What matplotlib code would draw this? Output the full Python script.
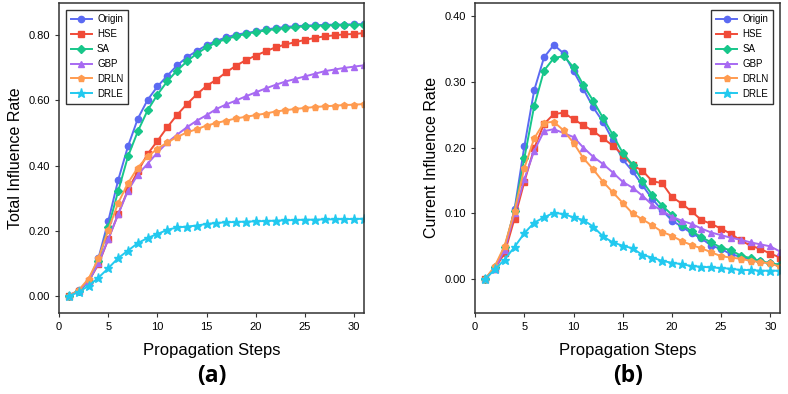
import numpy as np
import matplotlib
matplotlib.use("Agg")
import matplotlib.pyplot as plt
from matplotlib.ticker import FormatStrFormatter

plt.rcParams['font.family'] = ['Liberation Sans', 'DejaVu Sans']

steps = list(range(1, 32))
methods = ["Origin", "HSE", "SA", "GBP", "DRLN", "DRLE"]
colors = ["#5b6af2", "#f04b38", "#17c68a", "#a76af2", "#ff9b50", "#22c9ef"]
markers = ["o", "s", "D", "^", "p", "*"]

# (a) total influence rate
total_origin = [0.0, 0.018, 0.045, 0.116, 0.23, 0.355, 0.459, 0.544, 0.602, 0.643, 0.676,
                0.708, 0.733, 0.752, 0.77, 0.783, 0.794, 0.802, 0.807, 0.812, 0.818, 0.822,
                0.826, 0.828, 0.83, 0.831, 0.832, 0.833, 0.833, 0.834, 0.834]
total_hse = [0.0, 0.015, 0.045, 0.097, 0.174, 0.251, 0.326, 0.382, 0.436, 0.476, 0.518,
             0.556, 0.589, 0.619, 0.645, 0.664, 0.687, 0.707, 0.724, 0.738, 0.751, 0.763,
             0.772, 0.779, 0.786, 0.792, 0.797, 0.8, 0.803, 0.804, 0.807]
total_sa = [0.0, 0.016, 0.042, 0.108, 0.21, 0.321, 0.428, 0.505, 0.57, 0.618, 0.659,
            0.692, 0.72, 0.744, 0.763, 0.778, 0.789, 0.797, 0.805, 0.81, 0.815, 0.819,
            0.822, 0.825, 0.828, 0.829, 0.83, 0.831, 0.832, 0.832, 0.833]
total_gbp = [0.0, 0.016, 0.045, 0.1, 0.174, 0.25, 0.323, 0.372, 0.406, 0.44, 0.471,
             0.495, 0.518, 0.538, 0.555, 0.574, 0.588, 0.6, 0.613, 0.625, 0.637, 0.648,
             0.658, 0.666, 0.674, 0.682, 0.69, 0.695, 0.7, 0.704, 0.708]
total_drln = [0.0, 0.018, 0.053, 0.115, 0.203, 0.285, 0.346, 0.394, 0.428, 0.452, 0.471,
              0.488, 0.502, 0.512, 0.523, 0.531, 0.538, 0.545, 0.55, 0.555, 0.56, 0.566,
              0.57, 0.574, 0.577, 0.58, 0.582, 0.584, 0.586, 0.587, 0.589]
total_drle = [0.0, 0.012, 0.031, 0.056, 0.085, 0.116, 0.139, 0.162, 0.178, 0.19, 0.203,
              0.21, 0.213, 0.216, 0.221, 0.224, 0.226, 0.227, 0.228, 0.229, 0.23, 0.231,
              0.232, 0.233, 0.234, 0.234, 0.235, 0.235, 0.236, 0.236, 0.237]

# (b) current influence rate
cur_origin = [0.0, 0.017, 0.045, 0.106, 0.202, 0.287, 0.337, 0.356, 0.343, 0.316, 0.289,
              0.261, 0.239, 0.211, 0.182, 0.164, 0.143, 0.122, 0.105, 0.089, 0.08, 0.07,
              0.062, 0.051, 0.046, 0.038, 0.034, 0.03, 0.027, 0.024, 0.022]
cur_hse = [0.0, 0.016, 0.04, 0.092, 0.148, 0.199, 0.236, 0.251, 0.253, 0.243, 0.234,
           0.225, 0.214, 0.203, 0.189, 0.173, 0.165, 0.149, 0.146, 0.125, 0.115, 0.103,
           0.09, 0.084, 0.077, 0.069, 0.059, 0.051, 0.046, 0.039, 0.033]
cur_sa = [0.0, 0.018, 0.049, 0.104, 0.184, 0.263, 0.317, 0.336, 0.339, 0.322, 0.295,
          0.271, 0.245, 0.219, 0.192, 0.174, 0.149, 0.128, 0.112, 0.098, 0.083, 0.073,
          0.064, 0.056, 0.048, 0.044, 0.036, 0.032, 0.028, 0.024, 0.022]
cur_gbp = [0.0, 0.016, 0.045, 0.1, 0.152, 0.195, 0.225, 0.228, 0.222, 0.216, 0.2,
           0.186, 0.175, 0.162, 0.148, 0.139, 0.127, 0.113, 0.104, 0.095, 0.089, 0.084,
           0.077, 0.071, 0.067, 0.063, 0.06, 0.056, 0.053, 0.05, 0.042]
cur_drln = [0.0, 0.02, 0.051, 0.104, 0.169, 0.214, 0.238, 0.239, 0.226, 0.207, 0.184,
            0.167, 0.148, 0.132, 0.116, 0.1, 0.091, 0.082, 0.072, 0.066, 0.058, 0.052,
            0.047, 0.041, 0.035, 0.033, 0.031, 0.028, 0.026, 0.024, 0.019]
cur_drle = [0.0, 0.015, 0.03, 0.049, 0.07, 0.086, 0.094, 0.101, 0.099, 0.094, 0.09,
            0.08, 0.065, 0.056, 0.051, 0.047, 0.037, 0.033, 0.028, 0.025, 0.023, 0.02,
            0.019, 0.018, 0.017, 0.016, 0.014, 0.014, 0.013, 0.013, 0.013]

total = [total_origin, total_hse, total_sa, total_gbp, total_drln, total_drle]
current = [cur_origin, cur_hse, cur_sa, cur_gbp, cur_drln, cur_drle]

fig = plt.figure(figsize=(7.88, 3.94), dpi=100)
ax1 = fig.add_axes([0.075, 0.206, 0.387, 0.787])
ax2 = fig.add_axes([0.603, 0.206, 0.387, 0.787])


def draw(ax, series, ylabel, yticks, ylim, legend_loc, tag):
    for name, vals, c, m in zip(methods, series, colors, markers):
        ms = 6.5 if m == "*" else 4.5
        ax.plot(steps, vals, color=c, marker=m, markersize=ms, linewidth=1.4, label=name)
    ax.set_xlim(0, 31)
    ax.set_ylim(*ylim)
    ax.set_xticks([0, 5, 10, 15, 20, 25, 30])
    ax.set_yticks(yticks)
    ax.yaxis.set_major_formatter(FormatStrFormatter('%.2f'))
    ax.tick_params(labelsize=8, length=3, width=0.8, color="#333333")
    for s in ax.spines.values():
        s.set_color("#333333")
        s.set_linewidth(1.1)
    ax.set_xlabel("Propagation Steps", fontsize=12, labelpad=8)
    ax.set_ylabel(ylabel, fontsize=11.5)
    leg = ax.legend(loc=legend_loc, fontsize=7, frameon=True, fancybox=False,
                    handlelength=2.2, borderpad=0.5, labelspacing=0.5,
                    handletextpad=0.5, borderaxespad=0.7)
    leg.get_frame().set_edgecolor("black")
    leg.get_frame().set_linewidth(1.0)
    ax.text(0.5, -0.205, tag, transform=ax.transAxes, ha="center", va="center",
            fontsize=16.5, fontweight="bold", family=["Open Sans", "DejaVu Sans"])


draw(ax1, total, "Total Influence Rate", np.arange(0, 0.81, 0.2), (-0.052, 0.9), "upper left", "(a)")
draw(ax2, current, "Current Influence Rate", np.arange(0, 0.41, 0.1), (-0.051, 0.42), "upper right", "(b)")

fig.savefig("out.png", dpi=100)
